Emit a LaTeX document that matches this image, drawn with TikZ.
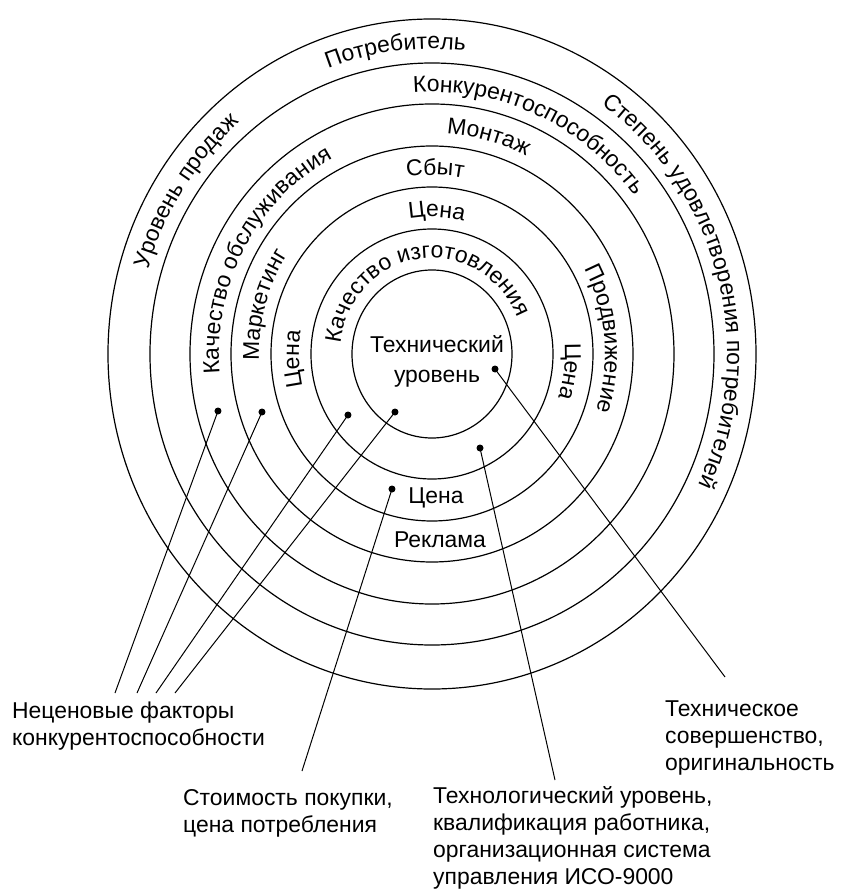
\documentclass[tikz,border=0pt]{standalone}
\usepackage{fontspec}
\setmainfont{Liberation Sans}
\usetikzlibrary{positioning, decorations.text}
\newcommand\lblfont{\fontsize{23}{27}\selectfont}

\begin{document}
\begin{tikzpicture}[
        x=1bp, y=1bp,
        every node/.style={
            font=\lblfont, inner sep=0pt, align=left
        },
        ring/.style={line width=1.2bp},
        dot/.style={circle, fill, minimum size=7bp},
        leader/.style={line width=1bp},
        ringtext/.style={decorate, decoration={text along path, text align=center, text={|\lblfont|#1}}}
      ]
        \useasboundingbox (-432,-536) rectangle (415,354);

        % rings, outer to inner
        \draw[ring] (0,0) ellipse [x radius=324bp, y radius=335bp];
        \draw[ring] (0,0) ellipse [x radius=282bp, y radius=291bp];
        \draw[ring] (0,0) ellipse [x radius=242bp, y radius=250bp];
        \draw[ring] (0,0) ellipse [x radius=201bp, y radius=208bp];
        \draw[ring] (0,0) ellipse [x radius=161bp, y radius=167bp];
        \draw[ring] (0,0) ellipse [x radius=121bp, y radius=125bp];
        \draw[ring] (0,0) ellipse [x radius=80bp, y radius=84bp];

        % texts along the rings (clockwise)
        \path[ringtext=Потребитель] (137:295bp and 305bp) arc[start angle=137, end angle=57, x radius=295bp, y radius=305bp];
        \path[ringtext=Уровень продаж] (187:295bp and 305bp) arc[start angle=187, end angle=107, x radius=295bp, y radius=305bp];
        \path[ringtext=Степень удовлетворения потребителей] (95:295bp and 305bp) arc[start angle=95, end angle=-65, x radius=295bp, y radius=305bp];
        \path[ringtext=Конкурентоспособность] (126:254bp and 262bp) arc[start angle=126, end angle=6, x radius=254bp, y radius=262bp];
        \path[ringtext=Качество обслуживания] (211:213bp and 221bp) arc[start angle=211, end angle=91, x radius=213bp, y radius=221bp];
        \path[ringtext=Монтаж] (100:213bp and 221bp) arc[start angle=100, end angle=50, x radius=213bp, y radius=221bp];
        \path[ringtext=Маркетинг] (204:173bp and 179bp) arc[start angle=204, end angle=124, x radius=173bp, y radius=179bp];
        \path[ringtext=Сбыт] (109:173bp and 179bp) arc[start angle=109, end angle=69, x radius=173bp, y radius=179bp];
        \path[ringtext=Продвижение] (45:173bp and 179bp) arc[start angle=45, end angle=-35, x radius=173bp, y radius=179bp];
        \path[ringtext=Цена] (108:133bp and 137bp) arc[start angle=108, end angle=68, x radius=133bp, y radius=137bp];
        \path[ringtext=Цена] (202:133bp and 137bp) arc[start angle=202, end angle=162, x radius=133bp, y radius=137bp];
        \path[ringtext=Цена] (13:133bp and 137bp) arc[start angle=13, end angle=-27, x radius=133bp, y radius=137bp];
        \path[ringtext=Качество изготовления] (198:92bp and 96bp) arc[start angle=198, end angle=-2, x radius=92bp, y radius=96bp];

        \node[align=center, font=\fontsize{23}{30}\selectfont] (core) at (5,-7) {Технический\\уровень};
        \node[anchor=base] (price_b) at (4,-149) {Цена};
        \node[anchor=base] (adv) at (8,-193) {Реклама};

        % dots
        \node[dot] (d_serv) at (-214,-57) {};
        \node[dot] (d_mark) at (-170,-58) {};
        \node[dot] (d_manuf) at (-84,-61) {};
        \node[dot] (d_tech) at (-37,-58) {};
        \node[dot] (d_price) at (-40,-135) {};
        \node[dot] (d_manuf2) at (48,-94) {};
        \node[dot] (d_tech2) at (63,-15) {};

        % captions (base = last line)
        \node[anchor=base west] (nonprice) at (-420,-391) {Неценовые факторы\\конкурентоспособности};
        \node[anchor=base west] (cost) at (-249,-478) {Стоимость покупки,\\цена потребления};
        \node[anchor=base west] (techlevel) at (1,-530) {Технологический уровень,\\квалификация работника,\\организационная система\\управления ИСО-9000};
        \node[anchor=base west] (orig) at (233,-416) {Техническое\\совершенство,\\оригинальность};

        \coordinate (e_serv) at (-317,-339);
        \coordinate (e_mark) at (-295,-339);
        \coordinate (e_manuf) at (-276,-339);
        \coordinate (e_tech) at (-257,-339);
        \coordinate (e_price) at (-130,-417);
        \coordinate (e_manuf2) at (123,-426);
        \coordinate (e_tech2) at (293,-323);

        \draw[leader] (d_serv.center) -- (e_serv);
        \draw[leader] (d_mark.center) -- (e_mark);
        \draw[leader] (d_manuf.center) -- (e_manuf);
        \draw[leader] (d_tech.center) -- (e_tech);
        \draw[leader] (d_price.center) -- (e_price);
        \draw[leader] (d_manuf2.center) -- (e_manuf2);
        \draw[leader] (d_tech2.center) -- (e_tech2);
      \end{tikzpicture}
\end{document}
